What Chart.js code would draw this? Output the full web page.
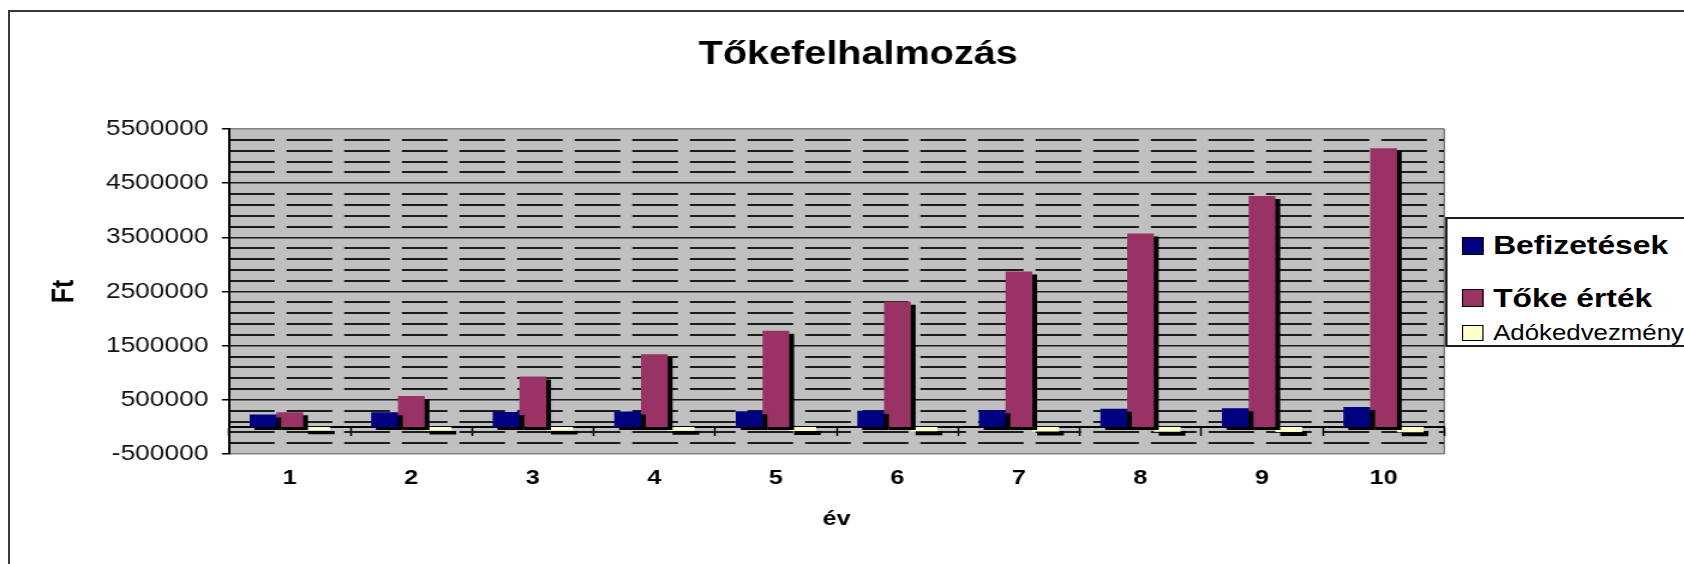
<!DOCTYPE html>
<html>
<head>
<meta charset="utf-8">
<script src="https://cdn.jsdelivr.net/npm/chart.js@4.4.1/dist/chart.umd.min.js"></script>
<style>
html,body{margin:0;padding:0;background:#fff;overflow:hidden;width:1684px;height:564px;}
#frame{position:absolute;left:8px;top:10px;width:1720px;height:620px;border:2px solid #3a3a3a;box-sizing:border-box;}
#wrap{position:absolute;left:0;top:0;width:1403px;height:564px;transform:scaleX(1.200285);transform-origin:0 0;}
#c{position:absolute;left:0;top:0;}
.lg-box{position:absolute;left:1204px;top:217px;width:240px;height:130px;border:2px solid #1e1e1e;box-sizing:border-box;background:#fff;}
.lg-sw{position:absolute;left:1218px;width:17.5px;border:1px solid #000;box-sizing:border-box;}
.lg-tx{position:absolute;left:1244px;font-family:'Liberation Sans',Arial,sans-serif;color:#000;white-space:nowrap;}
</style>
</head>
<body>
<div id="frame"></div>
<div id="wrap">
  <canvas id="c" width="1403" height="564" style="width:1403px;height:564px"></canvas>
  <div id="legend"></div>
</div>
<script>
// ---- data ----
const years = ['1', '2', '3', '4', '5', '6', '7', '8', '9', '10'];
const befizetesek = [230000, 270000, 275000, 285000, 290000, 300000, 310000, 335000, 345000, 370000];
const tokeErtek = [271000, 572000, 929000, 1340000, 1776000, 2311000, 2867000, 3570000, 4265000, 5145000];
const adokedvezmeny = [-62000, -66000, -68000, -70000, -74000, -78000, -84000, -88000, -92000, -100000];
const yTickValues = [-500000, 500000, 1500000, 2500000, 3500000, 4500000, 5500000];
const seriesNames = ['Befizetések', 'Tőke érték', 'Adókedvezmény'];
const seriesColors = ['#000080', '#993366', '#FFFFCC'];
const chartTitle = 'Tőkefelhalmozás';
const xTitle = 'év';
const yTitle = 'Ft';

// ---- styling / layout ----
const FONT = "'Liberation Sans', Arial, sans-serif";
const yMin = yTickValues[0];
const yMax = yTickValues[yTickValues.length - 1];
const isMajor = v => yTickValues.some(t => Math.abs(t - v) < 1);

const plotBg = {
  id: 'plotBg',
  beforeDraw(chart) {
    const {ctx, chartArea: a} = chart;
    ctx.save();
    ctx.fillStyle = '#c0c0c0';
    ctx.fillRect(a.left, a.top, a.right - a.left, a.bottom - a.top);
    ctx.strokeStyle = '#808080';
    ctx.lineWidth = 1.5;
    ctx.beginPath();
    ctx.moveTo(a.right, a.top);
    ctx.lineTo(a.right, a.bottom);
    ctx.stroke();
    ctx.restore();
  }
};

const barShadow = {
  id: 'barShadow',
  beforeDatasetDraw(chart, args) {
    const ctx = chart.ctx;
    ctx.save();
    ctx.shadowColor = '#000';
    ctx.shadowOffsetX = 4;
    ctx.shadowOffsetY = args.index === 2 ? 4 : 3;
    ctx.shadowBlur = 0;
  },
  afterDatasetDraw(chart) {
    chart.ctx.restore();
  }
};

const seriesData = [befizetesek, tokeErtek, adokedvezmeny];

new Chart(document.getElementById('c'), {
  type: 'bar',
  data: {
    labels: years,
    datasets: seriesData.map((d, i) => ({
      label: seriesNames[i],
      data: d,
      backgroundColor: seriesColors[i],
      borderWidth: 0,
      categoryPercentage: 0.66,
      barPercentage: 1.0
    }))
  },
  options: {
    responsive: false,
    animation: false,
    devicePixelRatio: 1,
    layout: { padding: { left: 27, right: 0, top: 0, bottom: 0 } },
    plugins: {
      legend: { display: false },
      tooltip: { enabled: false },
      title: {
        display: true,
        text: chartTitle,
        color: '#000',
        font: { family: FONT, size: 33, weight: 'bold' },
        padding: { top: 35.5, bottom: 53.9 }
      }
    },
    scales: {
      x: {
        type: 'category',
        offset: true,
        grid: { display: false, offset: true },
        border: { display: false },
        ticks: { color: '#000', font: { family: FONT, size: 21, weight: 'bold' }, padding: 3.8, maxRotation: 0, autoSkip: false },
        title: { display: true, text: xTitle, color: '#000', font: { family: FONT, size: 21, weight: 'bold' }, padding: { top: 0, bottom: 32.5 } },
        afterFit(s) { s.height = 110; }
      },
      x2: {
        type: 'category',
        axis: 'x',
        position: { y: 0 },
        offset: true,
        grid: { offset: true, drawOnChartArea: false, drawTicks: true, tickLength: 8, tickColor: '#000', tickWidth: 1.5 },
        border: { display: true, color: '#000', width: 2 },
        ticks: { display: false }
      },
      y: {
        type: 'linear',
        position: 'left',
        min: yMin,
        max: yMax,
        afterBuildTicks(s) { s.ticks = yTickValues.map(v => ({ value: v })); },
        ticks: { color: '#111', font: { family: FONT, size: 22 }, padding: 11, autoSkip: false, callback: v => String(v) },
        grid: {
          color: c => (c.tick && (c.tick.value === yMin || c.tick.value === yMax)) ? '#808080' : '#1c1c1c',
          lineWidth: 1.5, tickLength: 6, tickColor: '#000', tickWidth: 1.5
        },
        border: { display: true, color: '#000', width: 2 },
        title: { display: true, text: yTitle, color: '#000', font: { family: FONT, size: 25, weight: 'bold' }, padding: { top: 12, bottom: 0 } },
        afterFit(s) { s.width = 163.8; }
      },
      y2: {
        type: 'linear',
        position: 'right',
        min: yMin,
        max: yMax,
        ticks: { display: false, stepSize: 200000, autoSkip: false },
        grid: {
          drawTicks: false,
          lineWidth: 2,
          color: c => (c.tick && isMajor(c.tick.value)) ? 'rgba(0,0,0,0)' : '#1c1c1c'
        },
        border: { display: false, dash: [38, 10] },
        afterFit(s) { s.width = 199.7; }
      }
    }
  },
  plugins: [plotBg, barShadow]
});

// ---- legend (HTML, real text) ----
const legendLayout = [
  { swTop: 237, swH: 17.5, txTop: 231.6, size: 26.5, weight: 'bold' },
  { swTop: 288.5, swH: 18.5, txTop: 284.6, size: 26.5, weight: 'bold' },
  { swTop: 324.5, swH: 16, txTop: 322.5, size: 21.5, weight: 'normal' }
];
const lg = document.getElementById('legend');
const box = document.createElement('div');
box.className = 'lg-box';
lg.appendChild(box);
seriesNames.forEach((name, i) => {
  const L = legendLayout[i];
  const sw = document.createElement('div');
  sw.className = 'lg-sw';
  sw.style.top = L.swTop + 'px';
  sw.style.height = L.swH + 'px';
  sw.style.background = seriesColors[i];
  lg.appendChild(sw);
  const tx = document.createElement('div');
  tx.className = 'lg-tx';
  tx.style.top = L.txTop + 'px';
  tx.style.fontSize = L.size + 'px';
  tx.style.lineHeight = L.size + 'px';
  tx.style.fontWeight = L.weight;
  tx.textContent = name;
  lg.appendChild(tx);
});
</script>
</body>
</html>
